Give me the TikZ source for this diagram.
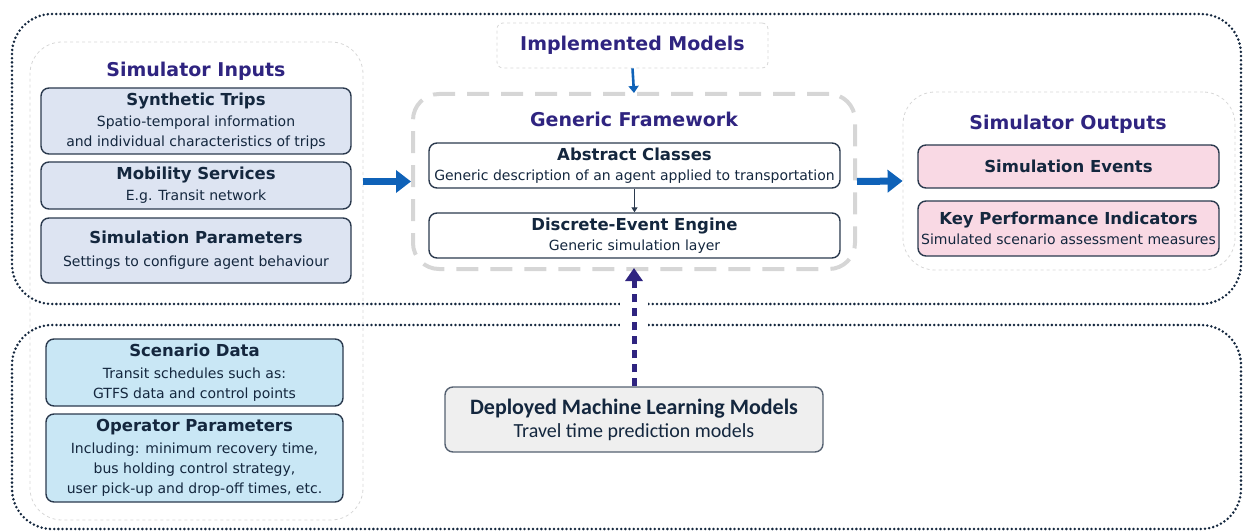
\documentclass[tikz,border=0pt]{standalone}
\usepackage{fontspec}
\setmainfont{DejaVu Sans}
\newfontfamily\condfont{Carlito}
\usepackage{tikz}
\usetikzlibrary{arrows.meta,positioning}

\definecolor{titleblue}{HTML}{2F2480}
\definecolor{boxtext}{HTML}{14273E}
\definecolor{boxline}{HTML}{2B3A4E}
\definecolor{inputfill}{HTML}{DDE4F2}
\definecolor{scenfill}{HTML}{C9E7F5}
\definecolor{outfill}{HTML}{F9D9E4}
\definecolor{mlfill}{HTML}{EFEFEF}
\definecolor{flowblue}{HTML}{0F62B8}
\definecolor{lightdash}{HTML}{D6D6D6}

\newcommand{\boxhead}[1]{{\fontsize{16.5}{19.5}\selectfont\bfseries #1}}

\begin{document}
\begin{tikzpicture}[x=1pt,y=-1pt,
    panel/.style={draw=boxline,line width=1.4pt,rounded corners=8pt,
      text=boxtext,align=center,inner sep=0pt,
      font=\fontsize{14}{20}\selectfont},
    group/.style={draw=lightdash,line width=0.8pt,dashed,rounded corners=32pt,
      inner sep=0pt},
    heading/.style={text=titleblue,font=\fontsize{19}{22}\selectfont\bfseries,
      inner sep=0pt},
    outline/.style={draw=boxtext,line width=2.8pt,line cap=round,
      dash pattern=on 0pt off 4.2pt,rounded corners=40pt},
    bigflow/.style={draw=flowblue,line width=7pt,
      -{Triangle[length=15pt,width=22pt]}}]
  \useasboundingbox (0,0) rectangle (1243,532);

  % the two dotted regions
  \draw[outline] (12,14) rectangle (1241,304);
  \draw[outline] (12,325) rectangle (1241,529);

  % inputs
  \node[group,minimum width=333pt,minimum height=478pt] (inputs) at (196.5,281) {};
  \node[heading] (inputsT) at (196,71) {Simulator Inputs};
  \node[panel,fill=inputfill,minimum width=310pt,minimum height=66pt] (trips) at (196,121)
    {\boxhead{Synthetic Trips}\\[1pt]Spatio-temporal information\\and individual characteristics of trips};
  \node[panel,fill=inputfill,minimum width=310pt,minimum height=47pt] (mobility) at (196,185.5)
    {\boxhead{Mobility Services}\\[1pt]E.g. Transit network};
  \node[panel,fill=inputfill,minimum width=310pt,minimum height=65pt] (params) at (196,250.5)
    {\boxhead{Simulation Parameters}\\[3pt]Settings to configure agent behaviour};
  \node[panel,fill=scenfill,minimum width=297pt,minimum height=67pt] (scenario) at (194.5,372.5)
    {\boxhead{Scenario Data}\\[1.5pt]Transit schedules such as:\\GTFS data and control points};
  \node[panel,fill=scenfill,minimum width=297pt,minimum height=88pt] (operator) at (194.5,458)
    {\boxhead{Operator Parameters}\\[1.5pt]Including: minimum recovery time,\\bus holding control strategy,\\user pick-up and drop-off times, etc.};

  % framework
  \node[group,rounded corners=6pt,minimum width=271pt,minimum height=45pt,
    text=titleblue,font=\fontsize{19}{22}\selectfont\bfseries] (models) at (632.5,45.5) {Implemented Models};
  \node[draw=lightdash,line width=4pt,dash pattern=on 22pt off 12pt,rounded corners=26pt,
    minimum width=442pt,minimum height=175pt] (framework) at (634,181.5) {};
  \node[heading] (frameworkT) at (634,119) {Generic Framework};
  \node[panel,fill=white,minimum width=411pt,minimum height=45pt] (abstract) at (634.5,165.5)
    {\boxhead{Abstract Classes}\\Generic description of an agent applied to transportation};
  \node[panel,fill=white,minimum width=411pt,minimum height=45pt] (engine) at (634.5,235.5)
    {\boxhead{Discrete-Event Engine}\\Generic simulation layer};

  % outputs
  \node[group,minimum width=332pt,minimum height=178pt] (outputs) at (1069,181) {};
  \node[heading] (outputsT) at (1068,124) {Simulator Outputs};
  \node[panel,fill=outfill,minimum width=301pt,minimum height=43pt] (events) at (1068.5,166.5)
    {\boxhead{Simulation Events}};
  \node[panel,fill=outfill,minimum width=301pt,minimum height=55pt] (kpi) at (1068.5,228.5)
    {\boxhead{Key Performance Indicators}\\Simulated scenario assessment measures};

  % machine learning
  \node[panel,draw=boxline!80,fill=mlfill,minimum width=378pt,minimum height=65pt,
    font=\condfont\fontsize{20}{23}\selectfont] (ml) at (634,419.5)
    {{\fontsize{22}{23}\selectfont\bfseries Deployed Machine Learning Models}\\Travel time prediction models};

  % connectors
  \fill[white] (620,290) rectangle (648,338);
  \draw[bigflow] (framework.west -| inputs.east) -- (framework.west);
  \draw[bigflow] (framework.east) -- (outputs.west);
  \draw[flowblue,line width=2.6pt,-{Triangle[length=7pt,width=10pt]}] (models.south) -- ([yshift=-1pt]framework.north);
  \draw[boxline,line width=1.2pt,-{Triangle[length=5pt,width=6pt]}] (abstract.south) -- (engine.north);
  \draw[titleblue,line width=5pt,dash pattern=on 8pt off 6pt,
    -{Triangle[length=13pt,width=17pt]}] (ml.north) -- ([yshift=3pt]framework.south);
\end{tikzpicture}
\end{document}
